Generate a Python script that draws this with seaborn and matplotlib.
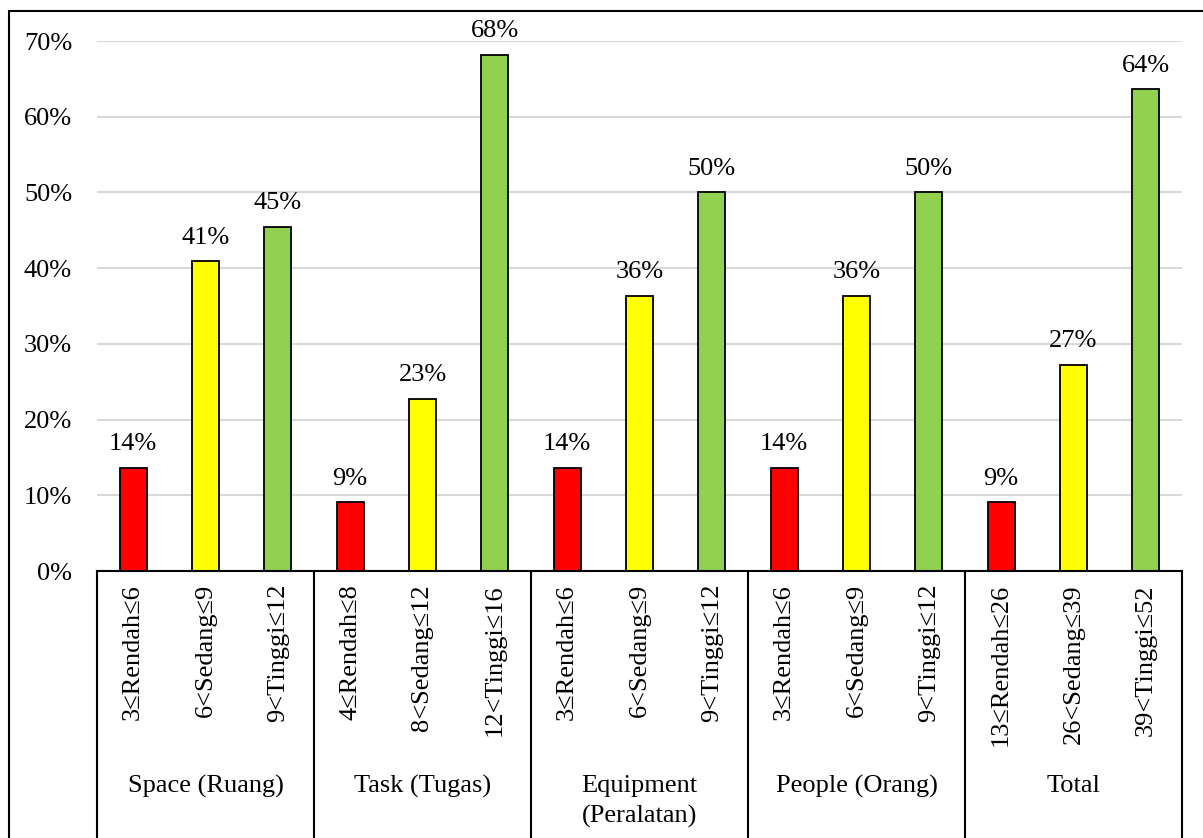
import pandas as pd
import seaborn as sns
import matplotlib.pyplot as plt
from matplotlib.patches import Rectangle

# Data (fractions of respondents)
groups = ['Space (Ruang)', 'Task (Tugas)', 'Equipment\n(Peralatan)', 'People (Orang)', 'Total']
levels = ['Rendah', 'Sedang', 'Tinggi']
tick_labels = ['3≤Rendah≤6', '6<Sedang≤9', '9<Tinggi≤12',
               '4≤Rendah≤8', '8<Sedang≤12', '12<Tinggi≤16',
               '3≤Rendah≤6', '6<Sedang≤9', '9<Tinggi≤12',
               '3≤Rendah≤6', '6<Sedang≤9', '9<Tinggi≤12',
               '13≤Rendah≤26', '26<Sedang≤39', '39<Tinggi≤52']
rendah = [0.1364, 0.0909, 0.1364, 0.1364, 0.0909]
sedang = [0.4091, 0.2273, 0.3636, 0.3636, 0.2727]
tinggi = [0.4545, 0.6818, 0.5000, 0.5000, 0.6364]

rows = []
for i, g in enumerate(groups):
    for j, (lev, vals) in enumerate(zip(levels, [rendah, sedang, tinggi])):
        rows.append({'pos': i * 3 + j, 'group': g, 'level': lev, 'value': vals[i]})
df = pd.DataFrame(rows)

sns.set_style('white')
plt.rcParams['font.family'] = ['Liberation Serif', 'DejaVu Serif']
plt.rcParams['text.color'] = 'black'
plt.rcParams['ytick.color'] = 'black'
fs = 19

W, H = 1203, 838
fig = plt.figure(figsize=(W / 100, H / 100), dpi=100)
ax_left, ax_right, ax_top, ax_bot = 97, 1182, 41, 571
ax = fig.add_axes([ax_left / W, 1 - ax_bot / H, (ax_right - ax_left) / W, (ax_bot - ax_top) / H])

palette = {'Rendah': '#ff0000', 'Sedang': '#ffff00', 'Tinggi': '#92d050'}
sns.barplot(data=df, x='pos', y='value', hue='level', palette=palette, dodge=False,
            saturation=1, width=0.37, edgecolor='black', linewidth=1.3, legend=False,
            ax=ax, zorder=3)

# value labels
for p in ax.patches:
    h = p.get_height()
    if h > 0:
        ax.annotate(f'{h:.0%}', (p.get_x() + p.get_width() / 2, h), xytext=(0, 9),
                    textcoords='offset points', ha='center', va='bottom', fontsize=fs)

ax.set_xlim(-0.5, len(tick_labels) - 0.5)
ax.set_ylim(0, 0.70)
ax.set_yticks([i / 10 for i in range(8)])
ax.set_yticklabels([f'{i * 10}%' for i in range(8)])
ax.tick_params(axis='y', length=0, pad=18, labelsize=fs)
ax.set_xticks([])
ax.set_xlabel('')
ax.set_ylabel('')
ax.yaxis.grid(True, color='#d9d9d9', linewidth=1.5, zorder=0)
ax.set_axisbelow(True)
for s in ['left', 'right', 'top']:
    ax.spines[s].set_visible(False)
ax.spines['bottom'].set_color('black')
ax.spines['bottom'].set_linewidth(1.5)
ax.spines['bottom'].set_zorder(4)

# multi-level category axis below the plot
px = (ax_bot - ax_top)
def yfrac(ypix):
    return (ax_bot - ypix) / px

trans = ax.get_xaxis_transform()
for k in range(len(groups) + 1):
    xk = k * 3 - 0.5
    ax.plot([xk, xk], [0, yfrac(840)], color='black', lw=1.5, transform=trans, clip_on=False)
for i, lab in enumerate(tick_labels):
    ax.text(i, yfrac(584), lab, rotation=90, ha='center', va='top', transform=trans, fontsize=fs)
for i, g in enumerate(groups):
    ax.text(i * 3 + 1, yfrac(775), g, ha='center', va='top', transform=trans, fontsize=fs,
            linespacing=1.45)

# chart border
fig.add_artist(Rectangle((9 / W, -0.5), 2, 1 - 11 / H + 0.5, transform=fig.transFigure,
                         fill=False, edgecolor='black', linewidth=1.5))

fig.savefig('out.png', dpi=100)
